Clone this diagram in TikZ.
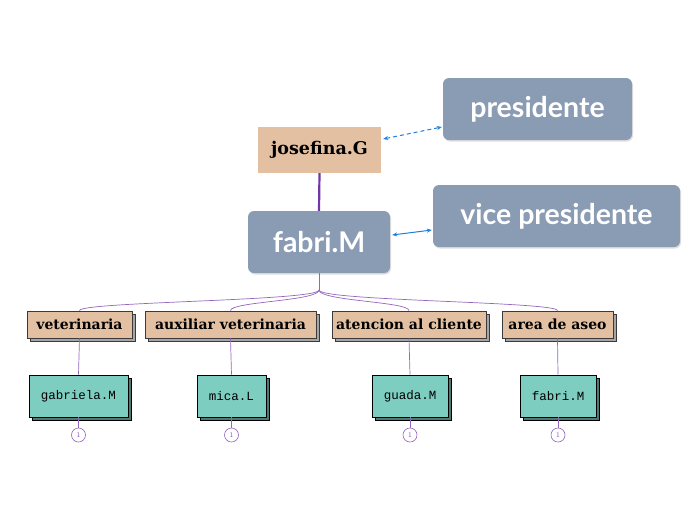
\documentclass[tikz,border=0pt]{standalone}
\usepackage{fontspec}
\setmainfont{DejaVu Serif}
\newfontfamily\titlefont{Lato}
\newfontfamily\monofont{Liberation Mono}
\usetikzlibrary{shadows,arrows.meta,calc}
\definecolor{tanfill}{HTML}{E3C0A2}
\definecolor{bluegray}{HTML}{8A9BB4}
\definecolor{tealfill}{HTML}{7DCDC1}
\definecolor{thinpurple}{HTML}{9466BE}
\definecolor{thickpurple}{HTML}{7236A6}
\definecolor{arrowblue}{HTML}{1E7FE0}
\definecolor{boxborder}{HTML}{3A3A3A}
\tikzset{
  topbox/.style={fill=tanfill, minimum width=123pt, minimum height=46pt, inner sep=0pt, font=\bfseries\fontsize{17.5}{20}\selectfont},
  rolebox/.style={fill=bluegray, rounded corners=6pt, inner sep=0pt, minimum height=62pt, text=white, font=\titlefont\bfseries\fontsize{28.5}{32}\selectfont,
    drop shadow={shadow xshift=1pt, shadow yshift=-1.5pt, fill=black!25, opacity=.5}},
  catbox/.style={fill=tanfill, draw=boxborder, line width=0.8pt, minimum height=27pt, inner sep=0pt, font=\bfseries\fontsize{14}{17}\selectfont,
    copy shadow={shadow xshift=3pt, shadow yshift=-3pt, draw=boxborder, fill=gray!70}},
  personbox/.style={fill=tealfill, draw=black, line width=0.8pt, minimum height=42pt, inner sep=0pt, font=\monofont\fontsize{12.5}{14}\selectfont,
    copy shadow={shadow xshift=3pt, shadow yshift=-3pt, draw=black, fill=tealfill!60!black}},
  countcirc/.style={circle, draw=thinpurple, fill=white, line width=0.6pt, minimum size=14pt, inner sep=0pt, text=thinpurple, font=\sffamily\fontsize{7}{8}\selectfont},
  thinline/.style={draw=thinpurple, line width=0.7pt},
  bluearrow/.style={draw=arrowblue, line width=1pt, {Stealth[length=5pt,width=4pt]}-{Stealth[length=5pt,width=4pt]}}
}
\begin{document}
\begin{tikzpicture}[x=1pt,y=-1pt]
\useasboundingbox (0,0) rectangle (696,520);
\node[topbox] (jos) at (319.5,150) {josefina.G};
\node[rolebox, minimum width=189pt] (pres) at (537.5,109) {presidente};
\node[rolebox, minimum width=142pt] (fab) at (319,242) {fabri.M};
\node[rolebox, minimum width=247pt] (vice) at (556.5,216) {vice presidente};

\node[catbox, minimum width=105pt] (vet) at (79.5,324.5) {veterinaria};
\node[catbox, minimum width=171pt] (aux) at (230.5,324.5) {auxiliar veterinaria};
\node[catbox, minimum width=154pt] (ate) at (409,324.5) {atencion al cliente};
\node[catbox, minimum width=111pt] (are) at (557.5,324.5) {area de aseo};

\node[personbox, minimum width=99pt] (gab) at (78.5,396) {gabriela.M};
\node[personbox, minimum width=69pt] (mic) at (231.5,396) {mica.L};
\node[personbox, minimum width=76pt] (gua) at (410,396) {guada.M};
\node[personbox, minimum width=76pt] (fab2) at (558,396) {fabri.M};

\node[countcirc] (c1) at (78.5,435) {1};
\node[countcirc] (c2) at (231.5,435) {1};
\node[countcirc] (c3) at (410,435) {1};
\node[countcirc] (c4) at (558,435) {1};

\draw[draw=thickpurple, line width=2.2pt] (jos.south) -- (fab.north);
\coordinate (ja) at ($(jos.east)+(2,-11)$);
\coordinate (pa) at ($(pres.west)+(-1,18)$);
\draw[bluearrow, dash pattern=on 4pt off 3pt] (ja) -- (pa);
\coordinate (fa) at ($(fab.east)+(2,-7)$);
\coordinate (va) at ($(vice.west)+(-1,14)$);
\draw[bluearrow] (fa) -- (va);

\coordinate (hub) at (319,290);
\draw[thinline] (fab.south) -- (hub);
\foreach \c in {vet,aux,ate,are}{
  \draw[thinline] (hub) .. controls (319,301) and ($(\c.north)+(0,-9)$) .. (\c.north);
}
\draw[thinline] (vet.south) -- (gab.north);
\draw[thinline] (aux.south) -- (mic.north);
\draw[thinline] (ate.south) -- (gua.north);
\draw[thinline] (are.south) -- (fab2.north);
\draw[thinline] (gab.south) -- (c1.north);
\draw[thinline] (mic.south) -- (c2.north);
\draw[thinline] (gua.south) -- (c3.north);
\draw[thinline] (fab2.south) -- (c4.north);
\end{tikzpicture}
\end{document}
